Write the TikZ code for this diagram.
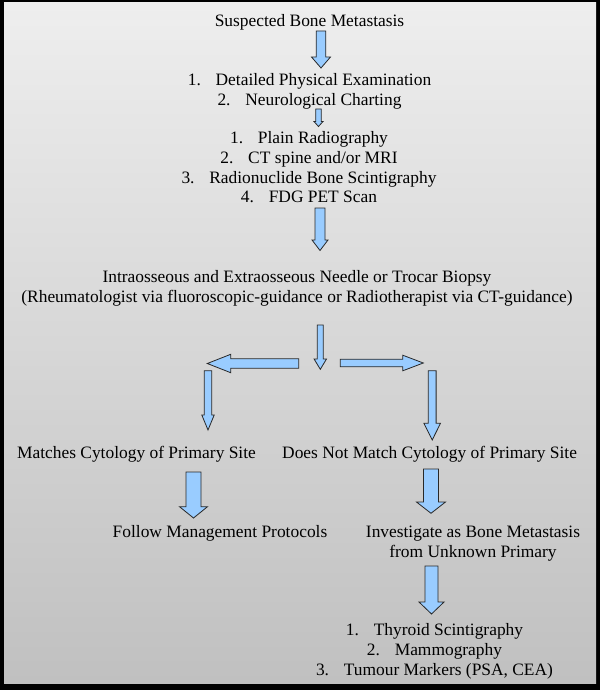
\documentclass[tikz,border=0pt]{standalone}
\usepackage{fontspec}
\setmainfont{Liberation Serif}
\usetikzlibrary{calc}
\definecolor{bgtop}{RGB}{238,238,238}
\definecolor{bgbot}{RGB}{192,192,192}
\definecolor{arrowfill}{RGB}{153,204,255}
\definecolor{arrowline}{RGB}{40,40,40}
\tikzset{
  txt/.style={anchor=north, align=center, inner sep=0pt,
    font=\fontsize{17.4}{19.7}\selectfont, text=black},
  barrow/.style={draw=arrowline, fill=arrowfill, line width=0.8pt, line join=miter},
}
% #1 start coord, #2 tip coord, #3 shaft half width, #4 head half width, #5 head length
\newcommand\DownBlockArrow[5]{%
  \draw[barrow] let \p1=(#1), \p2=(#2) in
    (\x2-#3pt,\y1) -- (\x2+#3pt,\y1) -- (\x2+#3pt,\y2+#5pt) -- (\x2+#4pt,\y2+#5pt)
    -- (\x2,\y2) -- (\x2-#4pt,\y2+#5pt) -- (\x2-#3pt,\y2+#5pt) -- cycle;}
\newcommand\RightBlockArrow[5]{%
  \draw[barrow] let \p1=(#1), \p2=(#2) in
    (\x1,\y2-#3pt) -- (\x2-#5pt,\y2-#3pt) -- (\x2-#5pt,\y2-#4pt) -- (\x2,\y2)
    -- (\x2-#5pt,\y2+#4pt) -- (\x2-#5pt,\y2+#3pt) -- (\x1,\y2+#3pt) -- cycle;}
\newcommand\LeftBlockArrow[5]{%
  \draw[barrow] let \p1=(#1), \p2=(#2) in
    (\x1,\y2-#3pt) -- (\x2+#5pt,\y2-#3pt) -- (\x2+#5pt,\y2-#4pt) -- (\x2,\y2)
    -- (\x2+#5pt,\y2+#4pt) -- (\x2+#5pt,\y2+#3pt) -- (\x1,\y2+#3pt) -- cycle;}
\newcommand\gap{\hspace{0.85em}}
\begin{document}
\begin{tikzpicture}[x=1pt,y=-1pt]
\useasboundingbox (0,0) rectangle (600,690);
% frame and background
\fill[black] (0,0) rectangle (600,690);
\shade[top color=bgtop, bottom color=bgbot] (4,3) rectangle (596,683);

% texts
\node[txt] (suspect) at (309.5,12.7) {\strut Suspected Bone Metastasis};
\node[txt] (exam) at (309.5,71.7) {\strut 1.\gap Detailed Physical Examination\\
  2.\gap Neurological Charting};
\node[txt] (imaging) at (309,129.7) {\strut 1.\gap Plain Radiography\\
  2.\gap CT spine and/or MRI\\
  3.\gap Radionuclide Bone Scintigraphy\\
  4.\gap FDG PET Scan};
\node[txt] (biopsy) at (297,268.4) {\strut Intraosseous and Extraosseous Needle or Trocar Biopsy\\
  (Rheumatologist via fluoroscopic-guidance or Radiotherapist via CT-guidance)};
\node[txt] (match) at (136.5,444.7) {\strut Matches Cytology of Primary Site};
\node[txt] (nomatch) at (429.6,444.7) {\strut Does Not Match Cytology of Primary Site};
\node[txt] (follow) at (220,523.4) {\strut Follow Management Protocols};
\node[txt] (investigate) at (473,523.4) {\strut Investigate as Bone Metastasis\\
  from Unknown Primary};
\node[txt] (tests) at (434.5,621.7) {\strut 1.\gap Thyroid Scintigraphy\\
  2.\gap Mammography\\
  3.\gap Tumour Markers (PSA, CEA)};

% arrow end points
\coordinate (a1s) at (321,31);    \coordinate (a1e) at (321,68);
\coordinate (a2s) at (318.5,109); \coordinate (a2e) at (318.5,126.5);
\coordinate (a3s) at (320,208);   \coordinate (a3e) at (320,250.5);
\coordinate (a4s) at (320.3,325); \coordinate (a4e) at (320.3,369.3);
\coordinate (alS) at (298.7,363.5); \coordinate (alE) at (207.3,363.5);
\coordinate (arS) at (340.3,363); \coordinate (arE) at (423.3,363);
\coordinate (dlS) at (208,370.7); \coordinate (dlE) at (208,430);
\coordinate (drS) at (432.2,370.7); \coordinate (drE) at (432.2,440);
\coordinate (flS) at (193.5,472); \coordinate (flE) at (193.5,518);
\coordinate (frS) at (431,469);   \coordinate (frE) at (431,513.3);
\coordinate (ftS) at (431.5,566); \coordinate (ftE) at (431.5,614);

\DownBlockArrow{a1s}{a1e}{4.8}{9.5}{11}
\DownBlockArrow{a2s}{a2e}{2.8}{4.5}{5}
\DownBlockArrow{a3s}{a3e}{5}{8}{10.5}
\DownBlockArrow{a4s}{a4e}{3}{6.2}{10.3}
\LeftBlockArrow{alS}{alE}{4.7}{9.2}{23.4}
\RightBlockArrow{arS}{arE}{3.8}{7.8}{20.6}
\DownBlockArrow{dlS}{dlE}{3.7}{6.2}{15}
\DownBlockArrow{drS}{drE}{3.9}{8.3}{16.7}
\DownBlockArrow{flS}{flE}{7.5}{14}{11.3}
\DownBlockArrow{frS}{frE}{7.5}{14.5}{11.3}
\DownBlockArrow{ftS}{ftE}{6.5}{12.5}{12}
\end{tikzpicture}
\end{document}
